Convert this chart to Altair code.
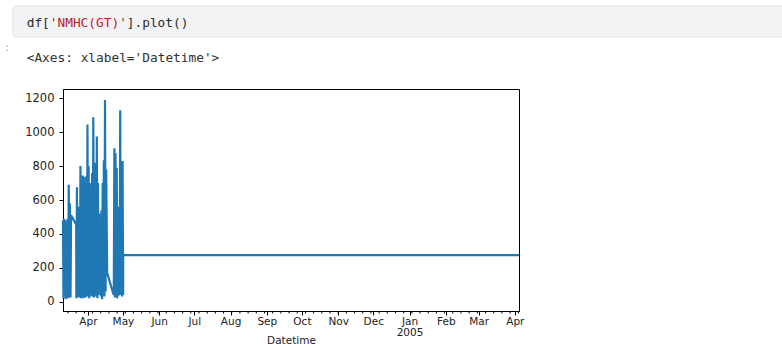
import altair as alt
import pandas as pd

# ---- data ----
days = ["2004-03-11", "2004-03-12", "2004-03-13", "2004-03-14", "2004-03-15", "2004-03-16", "2004-03-17",
        "2004-03-22", "2004-03-23", "2004-03-24", "2004-03-25", "2004-03-26", "2004-03-27", "2004-03-28",
        "2004-03-29", "2004-03-30", "2004-03-31",
        "2004-04-01", "2004-04-02", "2004-04-03", "2004-04-04", "2004-04-05", "2004-04-06", "2004-04-07",
        "2004-04-08", "2004-04-09", "2004-04-10", "2004-04-11", "2004-04-12", "2004-04-13", "2004-04-14",
        "2004-04-15", "2004-04-16",
        "2004-04-23", "2004-04-24", "2004-04-25", "2004-04-26", "2004-04-27", "2004-04-28", "2004-04-29",
        "2004-04-30"]
lows = [20, 30, 15, 25, 20, 30, 25,
        20, 25, 30, 25, 20, 35, 20, 30, 25, 40,
        30, 20, 45, 30, 35, 25, 50, 30, 20, 40, 90, 30, 15, 40, 30, 60,
        40, 25, 30, 20, 35, 40, 45, 30]
highs = [490, 480, 350, 490, 690, 580, 510,
         675, 560, 480, 800, 600, 745, 735, 420, 740, 1045,
         800, 700, 450, 760, 1088, 820, 560, 975, 700, 520, 280, 540, 700, 835, 1190, 780,
         905, 876, 790, 420, 560, 1130, 640, 830]
edge_times = ["2004-03-10T18:00:00", "2004-03-22T00:00:00", "2004-04-17T12:00:00",
              "2004-04-22T14:00:00", "2004-05-01T04:00:00", "2004-05-01T05:00:00",
              "2005-04-04T14:00:00"]
edge_values = [480, 455, 170, 50, 40, 275, 275]

y_ticks = [0, 200, 400, 600, 800, 1000, 1200]
month_ticks = [(2004, 4), (2004, 5), (2004, 6), (2004, 7), (2004, 8), (2004, 9), (2004, 10),
               (2004, 11), (2004, 12), (2005, 1), (2005, 2), (2005, 3), (2005, 4)]

code_parts = ["df[", "'NMHC(GT)'", "].plot()"]
code_colors = ["#2b2b2b", "#ba2121", "#2b2b2b"]
output_text = "<Axes: xlabel='Datetime'>"

# ---- build table ----
rows = []
for d, lo, hi in zip(days, lows, highs):
    rows.append((f"{d}T04:00:00", lo))
    rows.append((f"{d}T16:00:00", hi))
rows += list(zip(edge_times, edge_values))
df = pd.DataFrame(rows, columns=["Datetime", "nmhc"])
df["Datetime"] = pd.to_datetime(df["Datetime"])
df = df.sort_values("Datetime").reset_index(drop=True)

minor = pd.DataFrame({"Datetime": pd.date_range("2004-03-15", "2005-04-04", freq="W-MON")})

x_scale = alt.Scale(
    domain=[alt.DateTime(year=2004, month=3, date=10, hours=18),
            alt.DateTime(year=2005, month=4, date=4, hours=14)],
    nice=False,
)
y_scale = alt.Scale(domain=[-55, 1255], nice=False, zero=False)

FONT = "DejaVu Sans"
MONO = "DejaVu Sans Mono"
TXT = "#222222"

x_axis = alt.Axis(
    values=[alt.DateTime(year=y, month=m, date=1) for y, m in month_ticks],
    labelExpr="month(datum.value) == 0 ? [timeFormat(datum.value, '%b'), timeFormat(datum.value, '%Y')] : timeFormat(datum.value, '%b')",
    tickSize=4, tickColor="#000", domainColor="#000", domainWidth=1, tickWidth=1,
    labelFont=FONT, labelFontSize=10.5, labelColor=TXT, labelPadding=1, labelLineHeight=11,
    labelFlush=False, labelOverlap=False, grid=False,
    title="Datetime", titleFont=FONT, titleFontSize=10.5, titleFontWeight="normal",
    titleColor=TXT, titleY=32, titleBaseline="alphabetic",
)
y_axis = alt.Axis(
    values=y_ticks, format="d", tickSize=4, tickColor="#000", domainColor="#000", domainWidth=1,
    tickWidth=1, labelFont=FONT, labelFontSize=11.5, labelColor=TXT, labelPadding=5, grid=False,
    title=None,
)

line = alt.Chart(df).mark_line(color="#1f77b4", strokeWidth=2.2, strokeJoin="miter").encode(
    x=alt.X("Datetime:T", scale=x_scale, axis=x_axis),
    y=alt.Y("nmhc:Q", scale=y_scale, axis=y_axis),
)

minor_ticks = alt.Chart(minor).mark_rule(color="#000", strokeWidth=1).encode(
    x=alt.X("Datetime:T", scale=x_scale, axis=x_axis),
    y=alt.value(222),
    y2=alt.value(224.5),
)

one = pd.DataFrame({"a": [0]})
box = alt.Chart(one).mark_rect(fill="#f2f3f5", stroke="#e3e4e7", strokeWidth=1, cornerRadius=3).encode(
    x=alt.value(-50), x2=alt.value(725), y=alt.value(-83), y2=alt.value(-52)
)

char_w = 7.7
code_layers = []
offset = 0
for part, col in zip(code_parts, code_colors):
    code_layers.append(
        alt.Chart(one).mark_text(text=part, align="left", baseline="middle", font=MONO,
                                 fontSize=12.8, color=col).encode(
            x=alt.value(-36.3 + offset * char_w), y=alt.value(-66))
    )
    offset += len(part)

prompt = alt.Chart(one).mark_text(text=":", align="left", baseline="middle", font=MONO,
                                  fontSize=10, color="#aaaaaa").encode(x=alt.value(-59), y=alt.value(-41))
out = alt.Chart(one).mark_text(text=output_text, align="left", baseline="middle", font=MONO,
                               fontSize=12.8, color="#333333").encode(x=alt.value(-36.3), y=alt.value(-31.5))

chart = alt.layer(box, *code_layers, prompt, out, line, minor_ticks).properties(
    width=456, height=222,
    autosize=alt.AutoSizeParams(type="none"),
    padding={"left": 63, "top": 89, "right": 263, "bottom": 33},
    background="white",
).configure_view(stroke="#000", strokeWidth=1)

chart.save("out.html", embed_options={"renderer": "svg", "actions": False})
